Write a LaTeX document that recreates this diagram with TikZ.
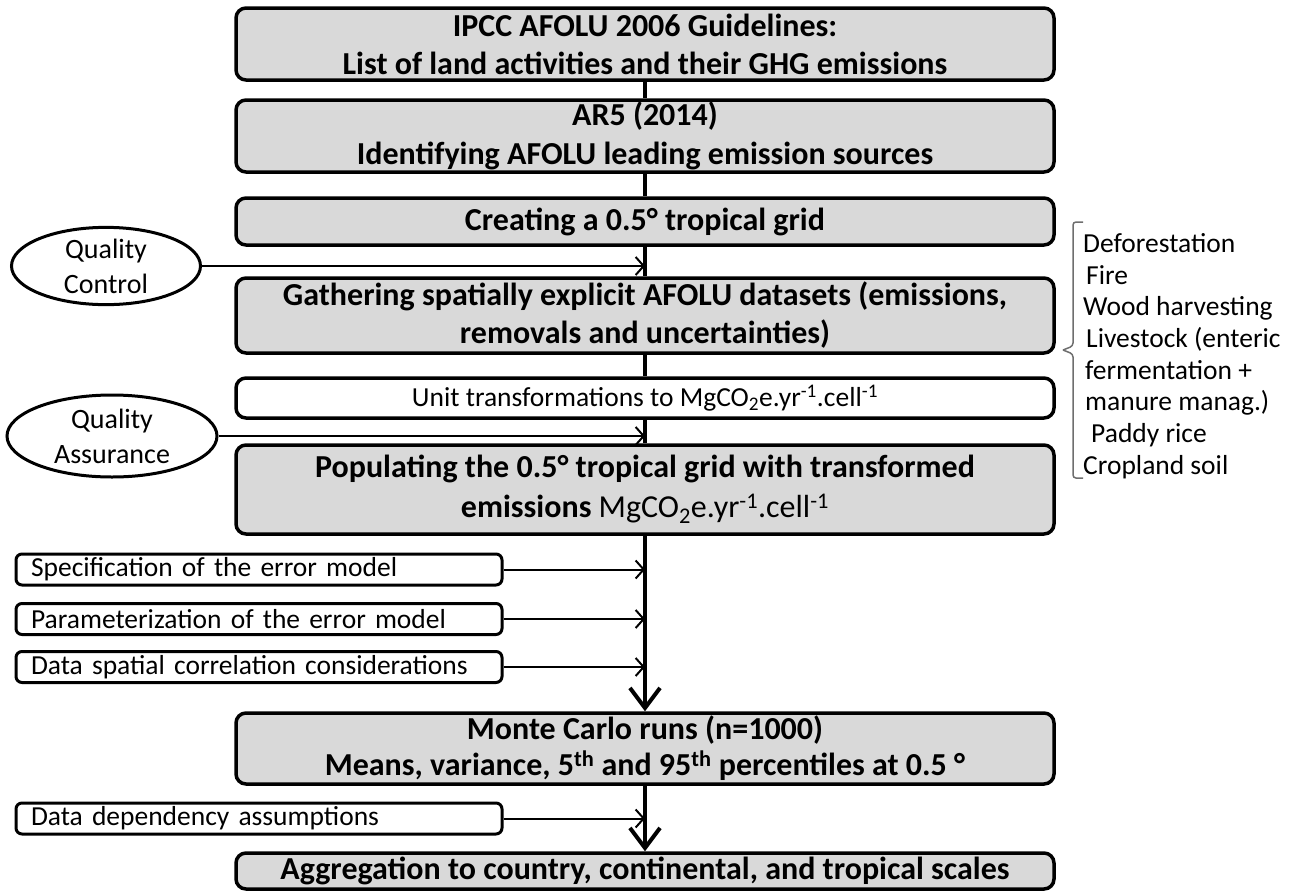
\documentclass[tikz,border=0pt]{standalone}
\usepackage{fontspec}
\setmainfont{Carlito}
\usetikzlibrary{shapes.geometric,arrows.meta}
\definecolor{boxgray}{RGB}{217,217,217}
\definecolor{brackgray}{RGB}{110,110,110}
\begin{document}
\begin{tikzpicture}[x=1pt,y=-1pt,
  mainbox/.style={draw=black, fill=boxgray, line width=3.5pt, rounded corners=10pt,
    minimum width=818pt, align=center, inner sep=0pt,
    font=\bfseries\fontsize{32}{39}\selectfont},
  unitbox/.style={mainbox, fill=white, font=\fontsize{27.5}{32}\selectfont},
  sidebox/.style={draw=black, fill=white, line width=3pt, rounded corners=6pt,
    text width=456pt, inner xsep=15pt, inner ysep=0pt, minimum height=31pt,
    align=left, font=\fontsize{27.5}{30}\selectfont},
  qbox/.style={draw=black, ellipse, line width=3pt, align=center, inner sep=0pt,
    font=\fontsize{28}{35}\selectfont},
  spine/.style={line width=4pt},
  bigarrow/.style={line width=4pt, -{Straight Barb[length=20pt,width=30pt]}},
  feed/.style={line width=2pt, -{Straight Barb[length=8pt,width=18pt]}},
  bracket/.style={draw=brackgray, line width=1.5pt}
]
\useasboundingbox (0,0) rectangle (1293,892);

% main column
\node[mainbox, minimum height=72pt, font=\bfseries\fontsize{32}{38}\selectfont] (b1) at (645,44)
  {IPCC AFOLU 2006 Guidelines:\\List of land activities and their GHG emissions};
\node[mainbox, minimum height=72pt] (b2) at (645,136)
  {AR5 (2014)\\Identifying AFOLU leading emission sources};
\node[mainbox, minimum height=47pt] (b3) at (645,221.5)
  {Creating a 0.5° tropical grid};
\node[mainbox, minimum height=75pt, font=\bfseries\fontsize{32}{38}\selectfont] (b4) at (645,315.5)
  {Gathering spatially explicit AFOLU datasets (emissions,\\removals and uncertainties)};
\node[unitbox, minimum height=40pt] (b5) at (645,398)
  {Unit transformations to MgCO\textsubscript{2}e.yr\textsuperscript{-1}.cell\textsuperscript{-1}};
\node[mainbox, minimum height=89pt, font=\bfseries\fontsize{32}{40}\selectfont] (b6) at (645,489.5)
  {Populating the 0.5° tropical grid with transformed\\emissions \mdseries MgCO\textsubscript{2}e.yr\textsuperscript{-1}.cell\textsuperscript{-1}};
\node[mainbox, minimum height=71pt, font=\bfseries\fontsize{32}{36}\selectfont] (b7) at (645,748.5)
  {Monte Carlo runs (n=1000)\\Means, variance, 5\textsuperscript{th} and 95\textsuperscript{th} percentiles at 0.5 °};
\node[mainbox, minimum height=36pt] (b8) at (645,871)
  {Aggregation to country, continental, and tropical scales};

% spine
\draw[spine] (b1.south) -- (b2.north);
\draw[spine] (b2.south) -- (b3.north);
\draw[spine] (b3.south) -- (b4.north);
\draw[spine] (b4.south) -- (b5.north);
\draw[spine] (b5.south) -- (b6.north);
\draw[bigarrow] (b6.south) -- (b7.north);
\draw[bigarrow] (b7.south) -- (b8.north);

% quality ellipses
\node[qbox, minimum width=189pt, minimum height=74pt] (qc) at (106,266) {Quality\\Control};
\node[qbox, minimum width=210pt, minimum height=82pt] (qa) at (112,436) {Quality\\Assurance};
\draw[feed] (qc.east) -- (qc.east -| b3.south);
\draw[feed] (qa.east) -- (qa.east -| b5.south);

% side boxes
\node[sidebox] (s1) at (259,569.5) {Specification of the error model};
\node[sidebox] (s2) at (259,619) {Parameterization of the error model};
\node[sidebox] (s3) at (259,667) {Data spatial correlation considerations};
\node[sidebox] (s4) at (259,818.5) {Data dependency assumptions};
\draw[feed] (s1.east) -- (s1.east -| b6.south);
\draw[feed] (s2.east) -- (s2.east -| b6.south);
\draw[feed] (s3.east) -- (s3.east -| b6.south);
\draw[feed] (s4.east) -- (s4.east -| b7.south);

% right list
\node[anchor=west, align=left, inner sep=0pt, font=\fontsize{27.5}{31.7}\selectfont] (list) at (1083,356)
  {Deforestation\\
   \hspace{3pt}Fire\\
   Wood harvesting\\
   \hspace{3pt}Livestock (enteric\\
   \hspace{2pt}fermentation +\\
   \hspace{2pt}manure manag.)\\
   \hspace{8pt}Paddy rice\\
   Cropland soil};
\draw[bracket, rounded corners=3pt] (1083,222) -- (1073,222) -- (1073,346) -- (1063,350);
\draw[bracket, rounded corners=3pt] (1063,350) -- (1073,354) -- (1073,478) -- (1083,478);
\end{tikzpicture}
\end{document}
